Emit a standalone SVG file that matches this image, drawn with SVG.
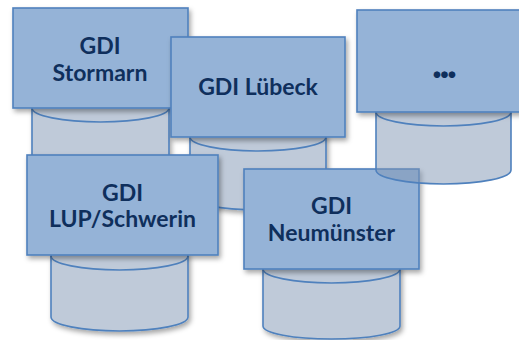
<svg xmlns="http://www.w3.org/2000/svg" width="519" height="340" viewBox="0 0 519 340">
<defs>
<filter id="sh" x="-20%" y="-20%" width="140%" height="150%">
<feDropShadow dx="2" dy="3" stdDeviation="2.5" flood-color="#000" flood-opacity="0.35"/>
</filter>
</defs>
<style>
.box{fill:#95b3d7;stroke:#4f81bd;stroke-width:1.6;filter:url(#sh)}
.cyl{fill:#bfcad9;stroke:#4f81bd;stroke-width:1.6}
.cylt{fill:#7f95b3;fill-opacity:0.5;stroke:#4f81bd;stroke-width:1.6}
.rim{fill:none;stroke:#4f81bd;stroke-width:1.6}
.lbl{font-family:Lato,"Open Sans","Liberation Sans",sans-serif;font-weight:bold;font-size:23px;fill:#0f2f5c;text-anchor:middle}
.dots{font-size:44px;letter-spacing:-3px}
</style>
<g id="stormarn">
<path class="cyl" filter="url(#sh)" d="M32,108 V169 A68.5,14 0 0 0 169,169 V108 A68.5,14 0 0 0 32,108 Z"/>
<path class="rim" d="M32,108 A68.5,14 0 0 0 169,108"/>
<rect class="box" x="13" y="8" width="175" height="100"/>
<text class="lbl" x="100" y="54">GDI</text>
<text class="lbl" x="100" y="81">Stormarn</text>
</g>
<g id="luebeck">
<path class="cyl" filter="url(#sh)" d="M190,137 V196 A68,14 0 0 0 326,196 V137 A68,14 0 0 0 190,137 Z"/>
<path class="rim" d="M190,137 A68,14 0 0 0 326,137"/>
<rect class="box" x="171" y="37" width="174" height="100"/>
<text class="lbl" x="258" y="95">GDI Lübeck</text>
</g>
<g id="lup">
<path class="cyl" filter="url(#sh)" d="M51,256 V317 A68.5,14 0 0 0 188,317 V256 A68.5,14 0 0 0 51,256 Z"/>
<path class="rim" d="M51,256 A68.5,14 0 0 0 188,256"/>
<rect class="box" x="27" y="155" width="191" height="100"/>
<text class="lbl" x="122.5" y="201">GDI</text>
<text class="lbl" x="122.5" y="227">LUP/Schwerin</text>
</g>
<g id="neumuenster">
<path class="cyl" filter="url(#sh)" d="M263,269 V326 A68.5,13 0 0 0 400,326 V269 A68.5,14 0 0 0 263,269 Z"/>
<path class="rim" d="M263,269 A68.5,14 0 0 0 400,269"/>
<rect class="box" x="244" y="169" width="175" height="100"/>
<text class="lbl" x="331.5" y="214">GDI</text>
<text class="lbl" x="331.5" y="241">Neumünster</text>
</g>
<g id="more">
<path class="cylt" d="M376,112 V170 A67.5,14 0 0 0 511,170 V112 A67.5,14 0 0 0 376,112 Z"/>
<path class="rim" d="M376,112 A67.5,14 0 0 0 511,112"/>
<rect class="box" x="357" y="10" width="174" height="102"/>
<text class="lbl dots" x="443" y="78">...</text>
</g>
<g id="connectors"/>
</svg>
